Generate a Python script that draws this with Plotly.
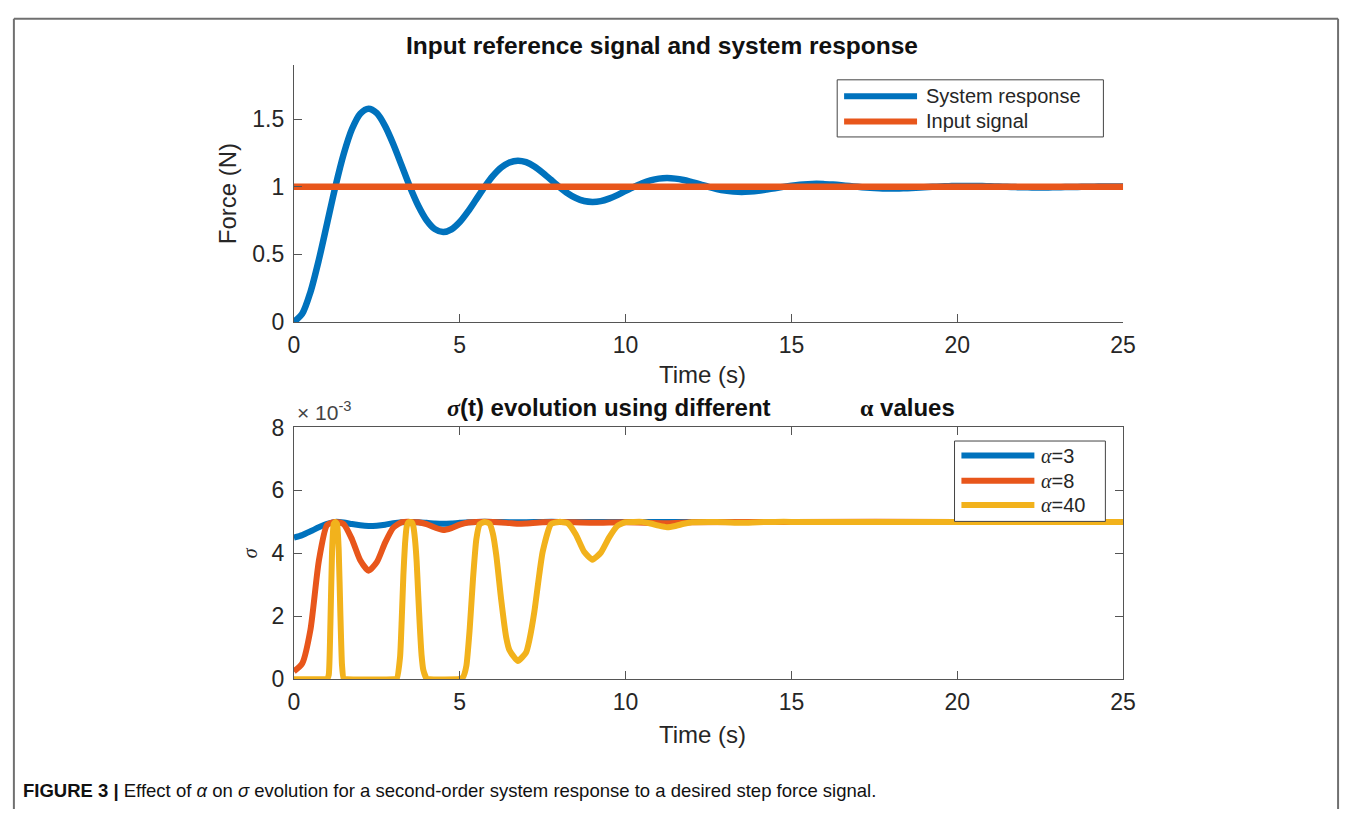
import plotly.graph_objects as go

W, H = 1356, 822

# ---------------- data ----------------
t_response = [0.0, 0.25, 0.5, 0.75, 1.0, 1.25, 1.5, 1.75, 2.0, 2.25, 2.5, 2.75, 3.0, 3.25, 3.5, 3.75,
              4.0, 4.25, 4.5, 4.75, 5.0, 5.25, 5.5, 5.75, 6.0, 6.25, 6.5, 6.75, 7.0, 7.25, 7.5, 7.75,
              8.0, 8.25, 8.5, 8.75, 9.0, 9.25, 9.5, 9.75, 10.0, 10.25, 10.5, 10.75, 11.0, 11.25, 11.5,
              11.75, 12.0, 12.25, 12.5, 12.75, 13.0, 13.25, 13.5, 13.75, 14.0, 14.25, 14.5, 14.75,
              15.0, 15.25, 15.5, 15.75, 16.0, 16.25, 16.5, 16.75, 17.0, 17.25, 17.5, 17.75, 18.0,
              18.25, 18.5, 18.75, 19.0, 19.25, 19.5, 19.75, 20.0, 20.25, 20.5, 20.75, 21.0, 21.25,
              21.5, 21.75, 22.0, 22.25, 22.5, 22.75, 23.0, 23.25, 23.5, 23.75, 24.0, 24.25, 24.5,
              24.75, 25.0]
system_response = [0.000, 0.060, 0.222, 0.458, 0.729, 1.001, 1.242, 1.428, 1.542, 1.579, 1.545, 1.450,
                   1.314, 1.157, 0.999, 0.860, 0.753, 0.687, 0.665, 0.685, 0.739, 0.818, 0.909, 1.000,
                   1.081, 1.143, 1.181, 1.194, 1.183, 1.151, 1.105, 1.052, 1.000, 0.953, 0.917, 0.895,
                   0.888, 0.894, 0.913, 0.939, 0.970, 1.000, 1.027, 1.048, 1.061, 1.065, 1.061, 1.051,
                   1.035, 1.018, 1.000, 0.984, 0.972, 0.965, 0.962, 0.965, 0.971, 0.980, 0.990, 1.000,
                   1.009, 1.016, 1.020, 1.022, 1.020, 1.017, 1.012, 1.006, 1.000, 0.995, 0.991, 0.988,
                   0.987, 0.988, 0.990, 0.993, 0.997, 1.000, 1.003, 1.005, 1.007, 1.007, 1.007, 1.006,
                   1.004, 1.002, 1.000, 0.998, 0.997, 0.996, 0.996, 0.996, 0.997, 0.998, 0.999, 1.000,
                   1.001, 1.002, 1.002, 1.002, 1.002]
t_input = [0.0, 25.0]
input_signal = [1.0, 1.0]

# sigma values in units of 1e-3
t_a3 = [0, 0.25, 0.5, 0.75, 1.0, 1.25, 1.5, 1.75, 2.0, 2.25, 2.5, 2.75, 3.0, 3.25, 3.5, 3.75, 4.0,
        4.25, 4.5, 4.75, 5.0, 5.25, 5.5, 6.0, 6.5, 6.75, 7.0, 7.5, 8.0, 10.0, 15.0, 20.0, 25.0]
sigma_a3 = [4.50, 4.58, 4.70, 4.83, 4.94, 5.00, 4.98, 4.93, 4.89, 4.87, 4.88, 4.91, 4.96, 4.99, 5.00,
            4.99, 4.97, 4.95, 4.94, 4.95, 4.97, 4.99, 5.00, 5.00, 4.99, 4.99, 4.99, 5.00, 5.00, 5.00,
            5.00, 5.00, 5.00]

t_a8 = [0, 0.25, 0.5, 0.75, 1.0, 1.25, 1.5, 1.75, 2.0, 2.25, 2.5, 2.75, 3.0, 3.25, 3.5, 3.75, 4.0,
        4.25, 4.5, 4.75, 5.0, 5.25, 5.5, 6.0, 6.5, 6.75, 7.0, 7.5, 8.0, 9.0, 10.0, 11.25, 12.0, 15.0,
        20.0, 25.0]
sigma_a8 = [0.25, 0.50, 1.58, 3.75, 4.90, 5.00, 4.93, 4.45, 3.78, 3.45, 3.72, 4.34, 4.82, 4.99, 5.00,
            4.99, 4.93, 4.82, 4.74, 4.80, 4.91, 4.98, 5.00, 5.00, 4.96, 4.94, 4.95, 4.99, 5.00, 4.97,
            4.99, 4.96, 4.99, 5.00, 5.00, 5.00]

t_a40 = [0, 0.9, 1.0, 1.05, 1.1, 1.15, 1.2, 1.25, 1.3, 1.35, 1.4, 1.45, 1.5, 1.6,
         3.0, 3.1, 3.2, 3.25, 3.3, 3.35, 3.4, 3.45, 3.5, 3.55, 3.6, 3.65, 3.7, 3.75, 3.8, 3.85, 3.9,
         4.0, 4.1, 5.0, 5.1, 5.2, 5.3, 5.4, 5.5, 5.6, 5.75, 5.9, 6.0, 6.1, 6.25, 6.4, 6.5, 6.75, 7.0,
         7.1, 7.25, 7.4, 7.5, 7.75, 8.0, 8.25, 8.5, 8.75, 9.0, 9.25, 9.5, 9.75, 10.0, 10.25, 10.5,
         10.75, 11.0, 11.25, 11.5, 11.75, 12.0, 12.5, 13.0, 13.5, 14.0, 14.5, 15.0, 20.0, 25.0]
sigma_a40 = [0, 0, 0.01, 0.14, 1.75, 4.05, 4.93, 5.00, 4.93, 4.12, 2.11, 0.45, 0.02, 0,
             0, 0.015, 0.70, 1.88, 3.30, 4.30, 4.85, 4.99, 5.00, 4.99, 4.86, 4.45, 3.75, 2.65, 1.60,
             0.75, 0.30, 0.02, 0, 0.01, 0.07, 0.43, 1.60, 3.20, 4.45, 4.92, 5.00, 4.94, 4.62, 3.95,
             2.52, 1.33, 0.92, 0.58, 0.85, 1.25, 2.15, 3.35, 4.05, 4.93, 5.00, 4.96, 4.60, 4.05, 3.80,
             4.02, 4.50, 4.87, 4.99, 5.00, 5.00, 4.95, 4.88, 4.83, 4.87, 4.94, 4.99, 5.00, 4.99, 4.97,
             4.99, 5.00, 5.00, 5.00, 5.00]

x_ticks = [0, 5, 10, 15, 20, 25]
force_ticks = [0, 0.5, 1, 1.5]
force_tick_text = ["0", "0.5", "1", "1.5"]
sigma_ticks = [0, 2, 4, 6, 8]

BLUE = "#0072BD"
ORANGE = "#E8561B"
YELLOW = "#F2B21C"
AX = "#555555"
TXT = "#262626"
FONT = "Liberation Sans, Arial, sans-serif"
SERIF = "Liberation Serif, Times New Roman, serif"


def px(x):
    return x / W


def py(y):
    return 1 - y / H


fig = go.Figure()
fig.add_trace(go.Scatter(x=t_response, y=system_response, mode="lines", name="System response",
                         line=dict(color=BLUE, width=6.5, shape="spline", smoothing=0.8),
                         xaxis="x", yaxis="y", showlegend=False))
fig.add_trace(go.Scatter(x=t_input, y=input_signal, mode="lines", name="Input signal",
                         line=dict(color=ORANGE, width=6.5), xaxis="x", yaxis="y", showlegend=False))
fig.add_trace(go.Scatter(x=t_a3, y=sigma_a3, mode="lines", name="α=3",
                         line=dict(color=BLUE, width=6, shape="spline", smoothing=0.6),
                         xaxis="x2", yaxis="y2", showlegend=False))
fig.add_trace(go.Scatter(x=t_a8, y=sigma_a8, mode="lines", name="α=8",
                         line=dict(color=ORANGE, width=6, shape="spline", smoothing=0.6),
                         xaxis="x2", yaxis="y2", showlegend=False))
fig.add_trace(go.Scatter(x=t_a40, y=sigma_a40, mode="lines", name="α=40",
                         line=dict(color=YELLOW, width=6, shape="spline", smoothing=0.5),
                         xaxis="x2", yaxis="y2", showlegend=False))

common_x = dict(range=[0, 25], tickvals=x_ticks, ticks="inside", ticklen=8, tickcolor=AX,
                showline=True, linecolor=AX, linewidth=1, showgrid=False, zeroline=False,
                tickfont=dict(family=FONT, size=23, color=TXT), ticklabelstandoff=2)
common_y = dict(ticks="inside", ticklen=8, tickcolor=AX, showline=True, linecolor=AX, linewidth=1,
                showgrid=False, zeroline=False, tickfont=dict(family=FONT, size=23, color=TXT),
                ticklabelstandoff=4)

xd = [px(292), px(1133)]
fig.update_layout(
    width=W, height=H, autosize=False,
    margin=dict(l=0, r=0, t=0, b=0, pad=0),
    paper_bgcolor="white", plot_bgcolor="white",
    showlegend=False,
    xaxis=dict(domain=xd, anchor="y", mirror=False, **common_x),
    yaxis=dict(domain=[py(319), py(54)], anchor="x", range=[0, 1.9], tickvals=force_ticks,
               ticktext=force_tick_text, mirror=False,
               title=dict(text="Force (N)", standoff=8, font=dict(family=FONT, size=24, color=TXT)),
               **common_y),
    xaxis2=dict(domain=xd, anchor="y2", mirror="ticks", **common_x),
    yaxis2=dict(domain=[py(688), py(428)], anchor="x2", range=[0, 8], tickvals=sigma_ticks,
                mirror="ticks",
                title=dict(text="<i>σ</i>", standoff=8, font=dict(family=SERIF, size=20, color=TXT)),
                **common_y),
)

ann = []


def text(x, y, s, size=24, color=TXT, xanchor="center", family=FONT):
    ann.append(dict(x=px(x), y=py(y), xref="paper", yref="paper", text=s, showarrow=False,
                    xanchor=xanchor, yanchor="middle",
                    font=dict(family=family, size=size, color=color)))


text(665, 34, "<b>Input reference signal and system response</b>", size=24.5, color="#111111")
text(706, 373, "Time (s)")
text(612, 407, "<b><span style='font-family:Liberation Serif'><i>σ</i></span>(t) evolution using different</b>",
     size=24, color="#111111")
text(914, 407, "<b><span style='font-family:Liberation Serif'>α</span> values</b>", size=24, color="#111111")
text(706, 745, "Time (s)")
text(293, 411, "× 10<sup>-3</sup>", size=21, xanchor="left", color="#444444")
text(15, 803, "<b>FIGURE 3 |</b> Effect of <i>α</i> on <i>σ</i> evolution for a second-order system "
     "response to a desired step force signal.", size=18.5, color="#111111", xanchor="left")

shapes = []


def rect(x0, y0, x1, y1):
    shapes.append(dict(type="rect", xref="paper", yref="paper", x0=px(x0), x1=px(x1), y0=py(y1),
                       y1=py(y0), line=dict(color="#444444", width=1), fillcolor="white", layer="above"))


def seg(x0, y0, x1, y1, color, width):
    shapes.append(dict(type="line", xref="paper", yref="paper", x0=px(x0), x1=px(x1), y0=py(y0),
                       y1=py(y1), line=dict(color=color, width=width), layer="above"))


# legend of the top axes
rect(843, 69, 1113, 128)
legend_top = [("System response", BLUE, 86), ("Input signal", ORANGE, 112)]
for name, col, yy in legend_top:
    seg(850, yy, 924, yy, col, 6)
    text(931, yy, name, size=20, xanchor="left")

# legend of the bottom axes
rect(962, 442, 1115, 525)
legend_bottom = [("<span style='font-family:Liberation Serif'><i>α</i></span>=3", BLUE, 457),
                 ("<span style='font-family:Liberation Serif'><i>α</i></span>=8", ORANGE, 483),
                 ("<span style='font-family:Liberation Serif'><i>α</i></span>=40", YELLOW, 508)]
for name, col, yy in legend_bottom:
    seg(969, yy, 1043, yy, col, 6)
    text(1048, yy, name, size=20, xanchor="left")

# page frame
FR = "#707070"
seg(8, 6, 1351, 6, FR, 2)
seg(8, 6, 8, 822, FR, 2)
seg(1351, 6, 1351, 822, FR, 2)

fig.update_layout(annotations=ann, shapes=shapes)
fig.write_html("out.html")
